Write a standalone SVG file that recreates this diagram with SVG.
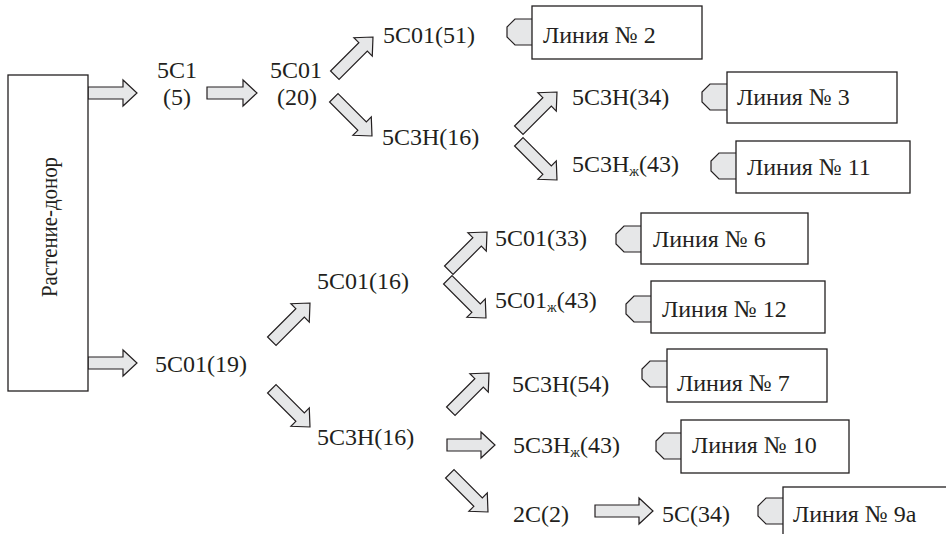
<svg xmlns="http://www.w3.org/2000/svg" width="946" height="534" viewBox="0 0 946 534">
<style>
text{font-family:"Liberation Serif","Times New Roman",serif;font-size:24px;fill:#231f20}
.box{fill:#fff;stroke:#231f20;stroke-width:1.3}
.ar{fill:#e6e7e8;stroke:#231f20;stroke-width:1.2;stroke-linejoin:miter}
.tag{fill:#e6e7e8;stroke:#231f20;stroke-width:1.2}
.sub{font-size:14px}
</style>
<defs>
<path id="ad" d="M0,-6H40V-13L54,0L40,13V6H0Z"/>
<path id="tg" d="M0,0H-17L-25,8V18L-17,26H0"/>
</defs>
<rect width="946" height="534" fill="#fff"/>
<g id="connectors">
<path class="ar" d="M88,87H123V80L137,93L123,106V99H88Z"/>
<path class="ar" d="M207,87H243V80L257,93L243,106V99H207Z"/>
<path class="ar" d="M88,357H123V350L137,363L123,376V369H88Z"/>
<path class="ar" d="M447,439H481V432L495,445L481,458V451H447Z"/>
<path class="ar" d="M595,505H639V498L653,511L639,524V517H595Z"/>
<use href="#ad" class="ar" transform="translate(334.8,75.2) rotate(-45)"/>
<use href="#ad" class="ar" transform="translate(333.8,97.8) rotate(45)"/>
<use href="#ad" class="ar" transform="translate(518.8,130.2) rotate(-45)"/>
<use href="#ad" class="ar" transform="translate(518.8,141.8) rotate(45)"/>
<use href="#ad" class="ar" transform="translate(271.8,341.2) rotate(-45)"/>
<use href="#ad" class="ar" transform="translate(271.8,388.8) rotate(45)"/>
<use href="#ad" class="ar" transform="translate(448.8,270.2) rotate(-45)"/>
<use href="#ad" class="ar" transform="translate(447.8,279.8) rotate(45)"/>
<use href="#ad" class="ar" transform="translate(450.8,411.2) rotate(-45)"/>
<use href="#ad" class="ar" transform="translate(449.8,473.8) rotate(45)"/>
</g>
<g id="donor">
<rect class="box" x="8" y="75" width="80" height="316"/>
<text transform="translate(57,227) rotate(-90)" text-anchor="middle" textLength="140" lengthAdjust="spacingAndGlyphs">Растение-донор</text>
</g>
<g id="n-5c1"><text x="177" y="78" text-anchor="middle">5C1</text><text x="177" y="105" text-anchor="middle">(5)</text></g>
<g id="n-5c01-20"><text x="296" y="78" text-anchor="middle">5C01</text><text x="297" y="105" text-anchor="middle">(20)</text></g>
<g id="n-5c01-51"><text x="383" y="43">5C01(51)</text></g>
<g id="n-5c3h-16a"><text x="382" y="145">5C3H(16)</text></g>
<g id="n-5c3h-34"><text x="572" y="105">5C3H(34)</text></g>
<g id="n-5c3hzh-43a"><text x="572" y="172">5C3H<tspan class="sub" dy="4">ж</tspan><tspan dy="-4">(43)</tspan></text></g>
<g id="n-5c01-19"><text x="155" y="372">5C01(19)</text></g>
<g id="n-5c01-16"><text x="317" y="289">5C01(16)</text></g>
<g id="n-5c3h-16b"><text x="317" y="445">5C3H(16)</text></g>
<g id="n-5c01-33"><text x="495" y="246">5C01(33)</text></g>
<g id="n-5c01zh-43"><text x="495" y="308">5C01<tspan class="sub" dy="4">ж</tspan><tspan dy="-4">(43)</tspan></text></g>
<g id="n-5c3h-54"><text x="512" y="392">5C3H(54)</text></g>
<g id="n-5c3hzh-43b"><text x="513" y="453">5C3H<tspan class="sub" dy="4">ж</tspan><tspan dy="-4">(43)</tspan></text></g>
<g id="n-2c-2"><text x="513" y="522">2C(2)</text></g>
<g id="n-5c-34"><text x="662" y="522">5C(34)</text></g>
<g id="line2"><use href="#tg" class="tag" x="532" y="19"/><rect class="box" x="532" y="6" width="170" height="53"/><text x="543" y="43">Линия № 2</text></g>
<g id="line3"><use href="#tg" class="tag" x="727" y="84"/><rect class="box" x="727" y="72" width="170" height="51"/><text x="737" y="105">Линия № 3</text></g>
<g id="line11"><use href="#tg" class="tag" x="736" y="153"/><rect class="box" x="736" y="141" width="174" height="52"/><text x="747" y="175">Линия № 11</text></g>
<g id="line6"><use href="#tg" class="tag" x="641" y="226"/><rect class="box" x="641" y="213" width="167" height="51"/><text x="653" y="247">Линия № 6</text></g>
<g id="line12"><use href="#tg" class="tag" x="651" y="296"/><rect class="box" x="651" y="281" width="174" height="52"/><text x="662" y="317">Линия № 12</text></g>
<g id="line7"><use href="#tg" class="tag" x="667" y="361"/><rect class="box" x="667" y="349" width="160" height="53"/><text x="677" y="391">Линия № 7</text></g>
<g id="line10"><use href="#tg" class="tag" x="681" y="433"/><rect class="box" x="681" y="420" width="168" height="53"/><text x="692" y="453">Линия № 10</text></g>
<g id="line9a"><use href="#tg" class="tag" x="783" y="498"/><rect class="box" x="783" y="487" width="200" height="70"/><text x="793" y="522">Линия № 9а</text></g>
</svg>
